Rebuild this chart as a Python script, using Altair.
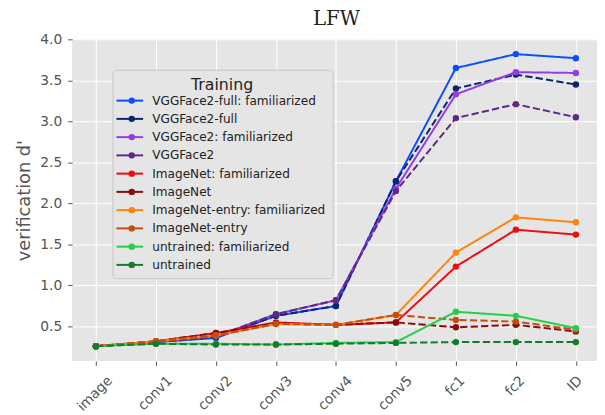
import altair as alt
import pandas as pd

layers = ["image", "conv1", "conv2", "conv3", "conv4", "conv5", "fc1", "fc2", "ID"]

series_names = [
    "VGGFace2-full: familiarized",
    "VGGFace2-full",
    "VGGFace2: familiarized",
    "VGGFace2",
    "ImageNet: familiarized",
    "ImageNet",
    "ImageNet-entry: familiarized",
    "ImageNet-entry",
    "untrained: familiarized",
    "untrained",
]

vggfull_fam = [0.26, 0.31, 0.36, 0.63, 0.75, 2.27, 3.65, 3.82, 3.77]
vggfull = [0.26, 0.31, 0.37, 0.63, 0.75, 2.27, 3.40, 3.57, 3.45]
vgg_fam = [0.26, 0.31, 0.38, 0.65, 0.82, 2.18, 3.33, 3.60, 3.59]
vgg = [0.26, 0.31, 0.38, 0.65, 0.82, 2.15, 3.04, 3.21, 3.05]
imnet_fam = [0.26, 0.32, 0.42, 0.55, 0.52, 0.55, 1.23, 1.68, 1.62]
imnet = [0.26, 0.32, 0.42, 0.54, 0.52, 0.55, 0.49, 0.52, 0.44]
imentry_fam = [0.26, 0.32, 0.39, 0.53, 0.52, 0.64, 1.40, 1.83, 1.77]
imentry = [0.26, 0.32, 0.39, 0.53, 0.52, 0.64, 0.58, 0.56, 0.46]
untrained_fam = [0.26, 0.29, 0.29, 0.28, 0.30, 0.31, 0.68, 0.63, 0.48]
untrained = [0.26, 0.29, 0.28, 0.28, 0.29, 0.30, 0.31, 0.31, 0.31]

all_values = [vggfull_fam, vggfull, vgg_fam, vgg, imnet_fam, imnet,
              imentry_fam, imentry, untrained_fam, untrained]

colors = ["#0d4dff", "#0b2470", "#963ce6", "#5c2a85", "#ef0a14",
          "#8c0a0a", "#ff840c", "#c24e14", "#24cf45", "#157a2a"]
solid = [1, 0]
dashed = [7.4, 3.2]
dashes = [solid, dashed] * 5

y_ticks = [0.5, 1.0, 1.5, 2.0, 2.5, 3.0, 3.5, 4.0]

rows = []
for name, vals in zip(series_names, all_values):
    for layer, v in zip(layers, vals):
        rows.append({"layer": layer, "value": v, "series": name})
df = pd.DataFrame(rows)

FONT = "DejaVu Sans"
GRAY = "#555555"

x_enc = alt.X(
    "layer:N", sort=layers, title=None,
    scale=alt.Scale(type="point", padding=0.375, align=0.53),
    axis=alt.Axis(
        labelAngle=-45, labelAlign="right", labelBaseline="top",
        labelFont=FONT, labelFontSize=14, labelColor=GRAY,
        labelOffset={"condition": [
            {"test": "datum.value == 'ID'", "value": -1},
            {"test": "datum.value == 'fc1' || datum.value == 'fc2'", "value": 1.5},
        ], "value": 9},
        labelPadding=8, tickSize=4.5, tickColor=GRAY, tickWidth=1,
        domain=False, grid=True, gridColor="white", gridWidth=1,
    ),
)
y_enc = alt.Y(
    "value:Q",
    scale=alt.Scale(domain=[0.08, 4.0], nice=False, zero=False),
    axis=alt.Axis(
        values=y_ticks, format=".1f",
        labelFont=FONT, labelFontSize=14, labelColor=GRAY, labelPadding=6,
        tickSize=4.5, tickColor=GRAY, tickWidth=1,
        domain=False, grid=True, gridColor="white", gridWidth=1,
        title="verification d'", titleFont=FONT, titleFontSize=18,
        titleFontWeight="normal", titleColor=GRAY,
        titleX=-43, titleY=163, titleAngle=270, titleAlign="center",
        titleBaseline="alphabetic",
    ),
)

LX, LY = 41, 31
common_legend = dict(
    orient="none", legendX=LX, legendY=LY,
    labelFont=FONT, labelFontSize=12.25, titleFont=FONT, titleFontSize=16,
    titleFontWeight="normal", titleAnchor="middle", padding=7,
    titlePadding=2, rowPadding=5.5, labelLimit=400,
)

line_legend = alt.Legend(
    title="Training",
    symbolType="M-3,0H3", symbolSize=81, symbolStrokeWidth=2,
    symbolOffset=4.3, labelOffset=16.7,
    labelColor="#222222", titleColor="#222222",
    fillColor="#E5E5E5", strokeColor="#CCCCCC", cornerRadius=4,
    **common_legend,
)
point_legend = alt.Legend(
    title=" ",
    symbolType="circle", symbolSize=42, symbolStrokeWidth=0,
    symbolOffset=6.3, labelOffset=16.7, labelExpr="' '",
    **common_legend,
)

lines = alt.Chart(df).mark_line(strokeWidth=2).encode(
    x=x_enc, y=y_enc,
    color=alt.Color("series:N", sort=series_names,
                    scale=alt.Scale(domain=series_names, range=colors),
                    legend=line_legend),
    strokeDash=alt.StrokeDash("series:N", sort=series_names,
                              scale=alt.Scale(domain=series_names, range=dashes),
                              legend=line_legend),
)

points = alt.Chart(df).mark_point(filled=True, size=42, opacity=1).encode(
    x=x_enc, y=y_enc,
    color=alt.Color("series:N", sort=series_names,
                    scale=alt.Scale(domain=series_names, range=colors),
                    legend=point_legend),
)

chart = alt.layer(lines, points).resolve_scale(
    color="independent"
).resolve_legend(color="independent").properties(
    width=532, height=326,
    background="white",
    title=alt.TitleParams("LFW", font="DejaVu Serif", fontSize=20,
                          fontWeight="normal", color="#222222",
                          anchor="middle", offset=4, dx=2),
    autosize=alt.AutoSizeParams(type="none"),
    padding={"left": 65, "top": 29, "right": 0, "bottom": 50},
).configure_view(fill="#E5E5E5", strokeWidth=0)

chart.save("out.html", embed_options={"renderer": "svg", "actions": False})
